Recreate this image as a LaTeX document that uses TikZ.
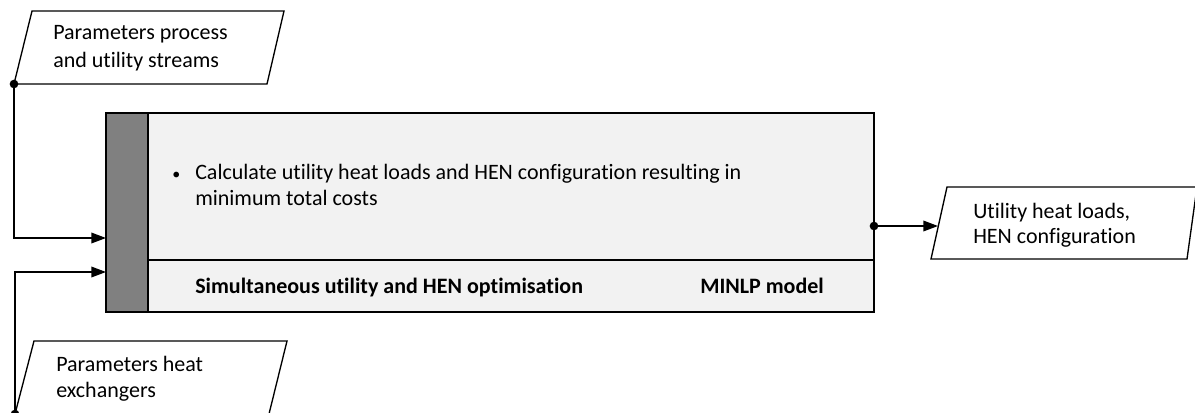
\documentclass[tikz,border=0pt]{standalone}
\usepackage{fontspec}
\setmainfont{Carlito}[RawFeature={-liga;-dlig;-clig}]
\usetikzlibrary{arrows.meta}
\definecolor{panelfill}{HTML}{F2F2F2}
\definecolor{stripfill}{HTML}{808080}
\tikzset{
  frame/.style={draw=black, line width=1pt},
  flow/.style={draw=black, line width=1pt, -{Triangle[length=11pt,width=8pt]}},
  dot/.style={circle, fill=black, inner sep=0pt, minimum size=6.5pt},
  txt/.style={anchor=base west, inner sep=0pt, font=\fontsize{16.5}{20}\selectfont},
  btxt/.style={txt, font=\fontsize{16.5}{20}\selectfont\bfseries},
}
\begin{document}
\begin{tikzpicture}[x=0.75pt, y=-0.75pt]
\useasboundingbox (0,0) rectangle (1195,412);

% main process block
\draw[frame, fill=panelfill] (106,113) rectangle (874,312);
\draw[frame, fill=stripfill] (106,113) rectangle (148,312);
\draw[frame] (148,260) -- (874,260);
\node[txt, font=\fontsize{12}{14}\selectfont] (bullet) at (172,179) {\textbullet};
\node[txt] (task1) at (195,179) {Calculate utility heat loads and HEN configuration resulting in};
\node[txt] (task2) at (195,205) {minimum total costs};
\node[btxt] (title) at (195,293) {Simultaneous utility and HEN optimisation};
\node[btxt] (model) at (700,293) {MINLP model};

% input: process and utility streams
\draw[frame, fill=white] (32,11) -- (284,11) -- (267,84) -- (14,84) -- cycle;
\node[txt] (in1a) at (53,39) {Parameters process};
\node[txt] (in1b) at (53,67) {and utility streams};

% input: heat exchangers
\draw[frame, fill=white] (34,341) -- (287,341) -- (269,414) -- (15,414) -- cycle;
\node[txt] (in2a) at (56,371) {Parameters heat};
\node[txt] (in2b) at (56,397) {exchangers};

% output: utility loads and configuration
\draw[frame, fill=white] (947,187) -- (1197,187) -- (1187,259) -- (931,259) -- cycle;
\node[txt] (outa) at (973,218) {Utility heat loads,};
\node[txt] (outb) at (973,243) {HEN configuration};

% connector end points
\coordinate (src1) at (14,84);
\coordinate (src2) at (15,414);
\coordinate (dst1) at (106,238);
\coordinate (dst2) at (106,272);
\coordinate (srcout) at (874,226);
\coordinate (dstout) at (938,226);

\draw[flow] (src1) |- (dst1);
\draw[flow] (src2) |- (dst2);
\draw[flow] (srcout) -- (dstout);
\node[dot] (d1) at (src1) {};
\node[dot] (d2) at (src2) {};
\node[dot] (d3) at (srcout) {};
\end{tikzpicture}
\end{document}
